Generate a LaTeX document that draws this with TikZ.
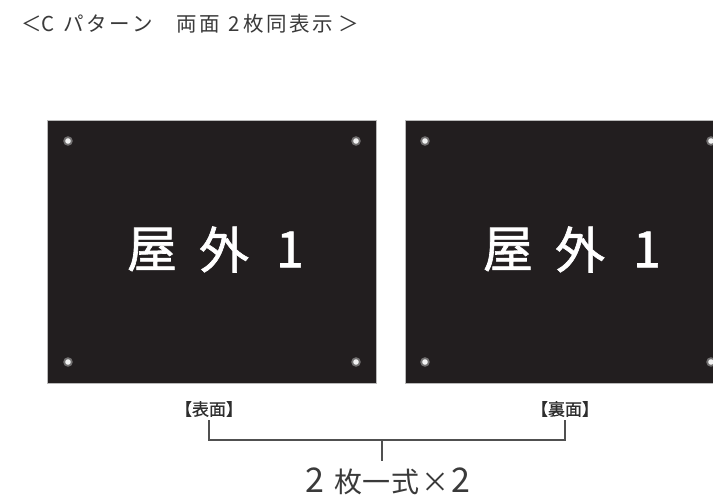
\documentclass[tikz,border=0pt]{standalone}
\usepackage{fontspec}
\newfontfamily\jp{Noto Sans CJK JP}
\newfontfamily\jpb[FakeBold=1.3]{Noto Sans CJK JP}
\newfontfamily\jpm[FakeBold=0.6]{Noto Sans CJK JP}
\definecolor{panel}{HTML}{221E1F}
\definecolor{txt}{HTML}{3A3A3A}
\definecolor{lbl}{HTML}{2E2E2E}
\definecolor{brk}{HTML}{505050}
\newcommand\tk{\kern2.6pt}
\tikzset{
  plate/.style={draw=gray!55, line width=0.8pt, fill=panel},
  platetext/.style={text=white, font=\jpb\fontsize{50}{50}\selectfont, inner sep=0pt, anchor=center},
  hole/.style={fill=gray!60, opacity=0.55},
  holecore/.style={fill=white!90!gray},
  sidelabel/.style={text=lbl, font=\jpm\fontsize{17}{17}\selectfont, inner sep=0pt},
  bracket/.style={draw=brk, line width=1.2pt},
  counttext/.style={text=txt, font=\jp\fontsize{28}{28}\selectfont, inner sep=0pt, anchor=base, text depth=0pt},
  titletext/.style={text=txt, font=\jp\fontsize{20.5}{20.5}\selectfont, inner sep=0pt, anchor=base west}
}
\begin{document}
\begin{tikzpicture}[x=1pt,y=-1pt]
\useasboundingbox (0,0) rectangle (713,495);
\clip (0,0) rectangle (713,495);
\fill[white] (0,0) rectangle (713,495);
% title
\node[titletext, anchor=base] (t0) at (32,31.5) {＜};
\node[titletext] (t1) at (41,31.5) {C};
\node[titletext] (t2) at (63.5,31.5) {パ\tk タ\tk ー\tk ン};
\node[titletext] (t3) at (176.5,31.5) {両\tk 面};
\node[titletext] (t4) at (228.5,31.5) {2};
\node[titletext] (t5) at (243.5,31.5) {枚\tk 同\tk 表\tk 示};
\node[titletext, anchor=base] (t6) at (349,31.5) {＞};
% left plate
\draw[plate] (47.5,120) rectangle (376,383);
\foreach \p in {(68,141),(356,141),(68,362),(356,362)}{
  \fill[hole] \p circle (4.8);
  \fill[holecore] \p circle (2.8);
}
\node[platetext] (l1) at (152,249.5) {屋};
\node[platetext] (l2) at (224,249.5) {外};
\node[platetext] (l3) at (290,249.5) {1};
% right plate
\draw[plate] (405,120.5) rectangle (731,383);
\foreach \p in {(425,141),(711,141),(425,362),(711,362)}{
  \fill[hole] \p circle (4.8);
  \fill[holecore] \p circle (2.8);
}
\node[platetext] (r1) at (508,249.5) {屋};
\node[platetext] (r2) at (580,249.5) {外};
\node[platetext] (r3) at (647,249.5) {1};
% labels
\node[sidelabel] (front) at (209,409) {【表面】};
\node[sidelabel] (back) at (565,409) {【裏面】};
\coordinate (bmid) at (382,440);
\coordinate (btick) at (382,461);
\node[counttext] (count) at (387.5,492) {{\fontsize{34}{34}\selectfont 2}\kern10pt 枚\kern1pt 一\kern1pt 式\kern2pt ×\kern1pt{\fontsize{34}{34}\selectfont 2}};
\draw[bracket] ([yshift=-3pt]front.south) |- (bmid) -| ([yshift=-3pt]back.south);
\draw[bracket] (bmid) -- (btick);
\end{tikzpicture}
\end{document}
